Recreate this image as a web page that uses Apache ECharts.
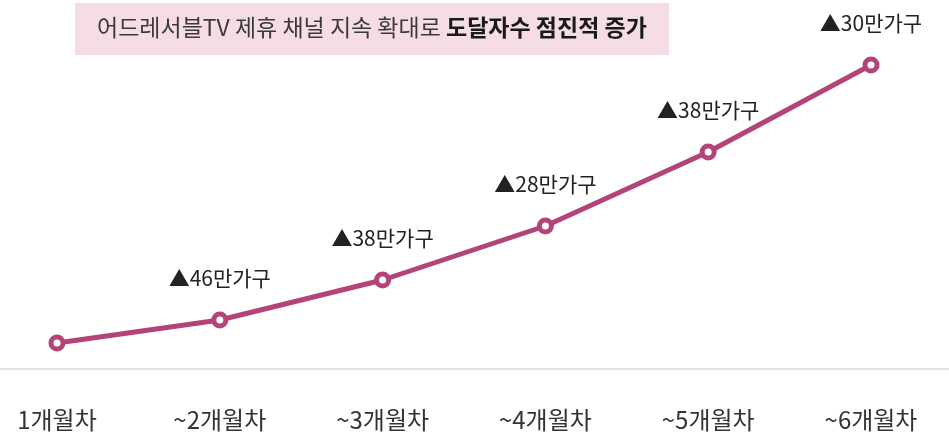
<!DOCTYPE html>
<html>
<head>
<meta charset="utf-8">
<script src="https://cdn.jsdelivr.net/npm/echarts@6/dist/echarts.min.js"></script>
<style>
html,body{margin:0;padding:0;background:#fff;}
#c{width:949px;height:434px;}
</style>
</head>
<body>
<div id="c"></div>
<script>
const categories = ['1개월차', '~2개월차', '~3개월차', '~4개월차', '~5개월차', '~6개월차'];
const reachValues = [26, 49, 89, 143, 217, 304];
const pointLabels = ['', '▲46만가구', '▲38만가구', '▲28만가구', '▲38만가구', '▲30만가구'];
const titleNormal = '어드레서블TV 제휴 채널 지속 확대로 ';
const titleBold = '도달자수 점진적 증가';

const FONT = '"Noto Sans CJK KR", "Noto Sans", sans-serif';
const chart = echarts.init(document.getElementById('c'), null, {renderer: 'canvas'});
chart.setOption({
  animation: false,
  backgroundColor: '#ffffff',
  grid: {left: 57, right: 78, top: 19, bottom: 65, containLabel: false},
  xAxis: {
    type: 'category',
    data: categories,
    boundaryGap: false,
    axisLine: {show: false},
    axisTick: {show: false},
    axisLabel: {color: '#333', fontSize: 24, fontFamily: FONT, margin: 39}
  },
  yAxis: {
    type: 'value', min: 0, max: 350,
    show: false, splitLine: {show: false}
  },
  graphic: [
    {type: 'line', shape: {x1: 0, y1: 369, x2: 949, y2: 369}, style: {stroke: '#e3e3e3', lineWidth: 2}, z: 1},
    {type: 'rect', left: 75, top: 3, shape: {width: 594, height: 52}, style: {fill: '#f5dce7'}, z: 10},
    {type: 'text', left: 97, top: 16, z: 11,
     style: {
       text: '{n|' + titleNormal + '}{b|' + titleBold + '}',
       rich: {
         n: {fontSize: 23, fontFamily: FONT, fill: '#3a3a3a', fontWeight: 'normal'},
         b: {fontSize: 23, fontFamily: FONT, fill: '#1a1a1a', fontWeight: 'bold'}
       }
     }}
  ],
  series: [{
    type: 'line',
    data: reachValues,
    symbol: 'circle',
    symbolSize: 12,
    lineStyle: {color: '#b4437a', width: 5},
    itemStyle: {color: '#ffffff', borderColor: '#b4437a', borderWidth: 5},
    label: {
      show: true, position: 'top', distance: 22.5,
      fontSize: 21, fontFamily: FONT, color: '#222',
      formatter: p => pointLabels[p.dataIndex]
    },
    z: 5
  }]
});
</script>
</body>
</html>
